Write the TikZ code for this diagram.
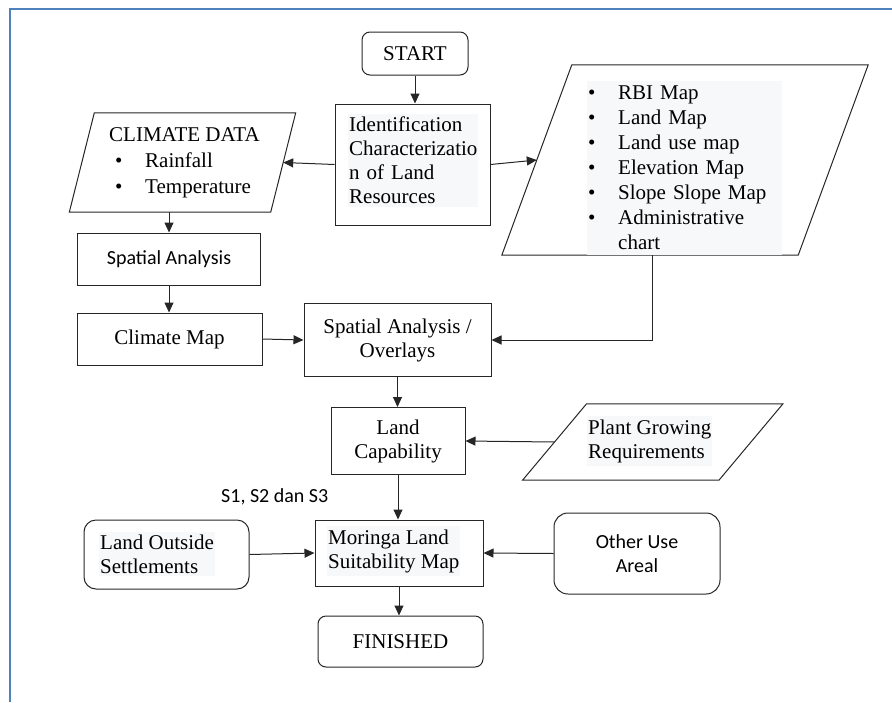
\documentclass[tikz,border=0pt]{standalone}
\usepackage{fontspec}
\setmainfont{Liberation Serif}
\newfontfamily\calibri{Carlito}
\usetikzlibrary{arrows.meta}

\definecolor{frameblue}{RGB}{79,129,189}
\definecolor{hilite}{RGB}{247,248,250}

\newcommand{\bul}{\makebox[30pt][l]{\textbullet}}

\tikzstyle{box} = [rectangle, draw=black!85, line width=1pt, inner sep=0pt]
\tikzstyle{term} = [box, rounded corners=8pt]
\tikzstyle{io} = [rectangle, inner sep=0pt]
\tikzstyle{serif} = [font=\fontsize{21}{24}\selectfont, align=center]
\tikzstyle{sans} = [font=\calibri\fontsize{20}{24}\selectfont, align=center, inner sep=0pt]
\tikzstyle{hl} = [font=\fontsize{21}{24}\selectfont, align=left, fill=hilite, inner xsep=1pt, inner ysep=3pt]
\tikzstyle{slanted} = [draw=black!85, line width=1pt]
\tikzstyle{flow} = [line width=1pt, draw=black!85, -{Triangle[length=10pt,width=9pt]}]

\begin{document}
\begin{tikzpicture}[x=1pt, y=-1pt]
  \useasboundingbox (0,0) rectangle (892,702);
  \draw[frameblue, line width=2pt] (9.5,702) -- (9.5,9) -- (892,9);

  \node[term, serif, minimum width=106pt, minimum height=43pt] (start) at (415,53.5) {START};

  \node[box, minimum width=155pt, minimum height=121pt] (ident) at (412.5,164.5) {};
  \node[hl, anchor=west, text width=128pt] (identtxt) at (348,160)
    {Identification\\Characterizatio\\n of Land\\Resources};

  \node[io, minimum width=201pt, minimum height=99pt, align=left,
        font=\fontsize{21}{26}\selectfont] (clim) at (182.5,162.5)
    {\hspace*{4pt}CLIMATE DATA\\\hspace*{10pt}\bul Rainfall\\\hspace*{10pt}\bul Temperature};
  \draw[slanted] ([xshift=12.5pt]clim.north west) -- ([xshift=12.5pt]clim.north east)
    -- ([xshift=-12.5pt]clim.south east) -- ([xshift=-12.5pt]clim.south west) -- cycle;

  \node[io, minimum width=296pt, minimum height=190pt] (data) at (685,160) {};
  \draw[slanted] ([xshift=35pt]data.north west) -- ([xshift=35pt]data.north east)
    -- ([xshift=-35pt]data.south east) -- ([xshift=-35pt]data.south west) -- cycle;
  \node[hl, anchor=north west, text width=193pt, inner ysep=5pt,
        font=\fontsize{21}{25}\selectfont] (datatxt) at (587,81)
    {\bul RBI Map\\\bul Land Map\\\bul Land use map\\\bul Elevation Map\\
     \bul Slope Slope Map\\\bul Administrative\\\hspace*{30pt}chart};

  \node[box, sans, minimum width=183pt, minimum height=52pt] (spat) at (169,259) {Spatial Analysis};
  \node[box, serif, minimum width=185pt, minimum height=52pt] (cmap) at (169.5,339) {Climate Map};
  \node[box, serif, minimum width=187pt, minimum height=73pt] (over) at (397.5,340)
    {Spatial Analysis /\\Overlays};

  \node[box, serif, minimum width=134pt, minimum height=67pt] (cap) at (398,441) {Land\\Capability};

  \node[io, minimum width=196pt, minimum height=76pt] (plant) at (652.75,442) {};
  \draw[slanted] ([xshift=32pt]plant.north west) -- ([xshift=32pt]plant.north east)
    -- ([xshift=-32pt]plant.south east) -- ([xshift=-32pt]plant.south west) -- cycle;
  \node[hl, anchor=west] (planttxt) at (587,441) {Plant Growing\\Requirements};

  \node[sans, anchor=west] (grade) at (221,497) {S1, S2 dan S3};

  \node[box, minimum width=168pt, minimum height=66pt] (moringa) at (399,553) {};
  \node[hl, anchor=west] (moringatxt) at (327,551) {Moringa Land\\Suitability Map};

  \node[term, rounded corners=12pt, minimum width=165pt, minimum height=69pt] (outside) at (166.5,554.5) {};
  \node[hl, anchor=west] (outsidetxt) at (99,554) {Land Outside\\Settlements};

  \node[term, sans, rounded corners=14pt, minimum width=166pt, minimum height=81pt] (other) at (637,553.5)
    {Other Use\\Areal};

  \node[term, serif, minimum width=165pt, minimum height=51pt] (finish) at (400.5,641.5) {FINISHED};

  \draw[flow] (start.south) -- (start.south |- ident.north);
  \draw[flow] (ident.west) -- (clim.east);
  \draw[flow] (ident.east) -- (data.west);
  \draw[flow] (spat.north |- clim.south) -- (spat.north);
  \draw[flow] (spat.south) -- (spat.south |- cmap.north);
  \draw[flow] (cmap.east) -- (over.west);
  \draw[flow] ([xshift=-33pt]data.south) |- (over.east);
  \draw[flow] (over.south) -- (over.south |- cap.north);
  \draw[flow] (plant.west) -- (cap.east);
  \draw[flow] (cap.south) -- (cap.south |- moringa.north);
  \draw[flow] (outside.east) -- (moringa.west);
  \draw[flow] (other.west) -- (moringa.east);
  \draw[flow] (moringa.south) -- (moringa.south |- finish.north);
\end{tikzpicture}
\end{document}
